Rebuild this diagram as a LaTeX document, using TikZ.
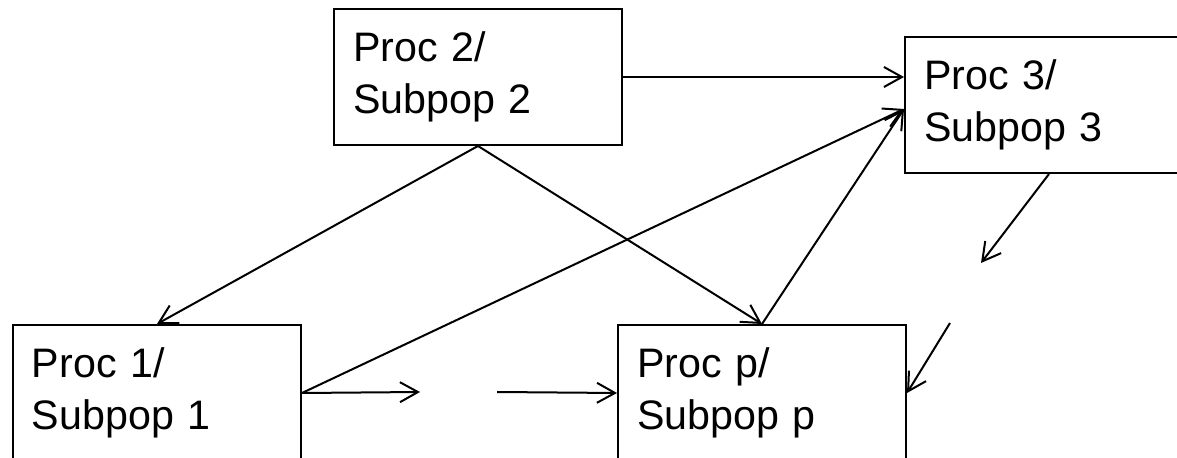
\documentclass[tikz,border=0pt]{standalone}
\usepackage{fontspec}
\setmainfont{Liberation Sans}
\usetikzlibrary{arrows.meta, positioning}
\tikzset{procbox/.style={draw, rectangle, line width=1pt, minimum width=144pt, minimum height=68pt,
    text width=125pt, inner xsep=9.5pt, align=left, anchor=north west,
    font=\fontsize{20.6pt}{26pt}\selectfont}}

\begin{document}
\begin{tikzpicture}[x=0.5pt, y=-0.5pt, >={Straight Barb[length=9pt,width=10pt]}, line width=1pt]
    \useasboundingbox (0,0) rectangle (1177,458);
    \node[procbox] (p-2) at (333,8) {Proc 2/\\Subpop 2};
    \node[procbox] (p-3) at (904,36) {Proc 3/\\Subpop 3};
    \node[procbox] (p-1) at (12,324) {Proc 1/\\Subpop 1};
    \node[procbox] (p-p) at (617,324) {Proc p/\\Subpop p};
    \coordinate (gap-a) at (420,392);
    \coordinate (gap-b) at (497,392);
    \coordinate (gap-c) at (981,263);
    \coordinate (gap-d) at (950,323);

    \draw[->] (p-2.east) -- (p-2.east -| p-3.west);
    \draw[->] (p-2.south) -- (p-1.north);
    \draw[->] (p-2.south) -- (p-p.north);
    \draw[->] (p-1.east) -- ([yshift=-2pt]p-3.west);
    \draw[->] (p-p.north) -- ([yshift=-2pt]p-3.west);

    \draw[->] (p-1.east) -- (gap-a);
    \draw[->] (gap-b) -- (p-p.west);
    \draw[->] (p-3.south) -- (gap-c);
    \draw[->] (gap-d) -- (p-p.east);
\end{tikzpicture}
\end{document}
